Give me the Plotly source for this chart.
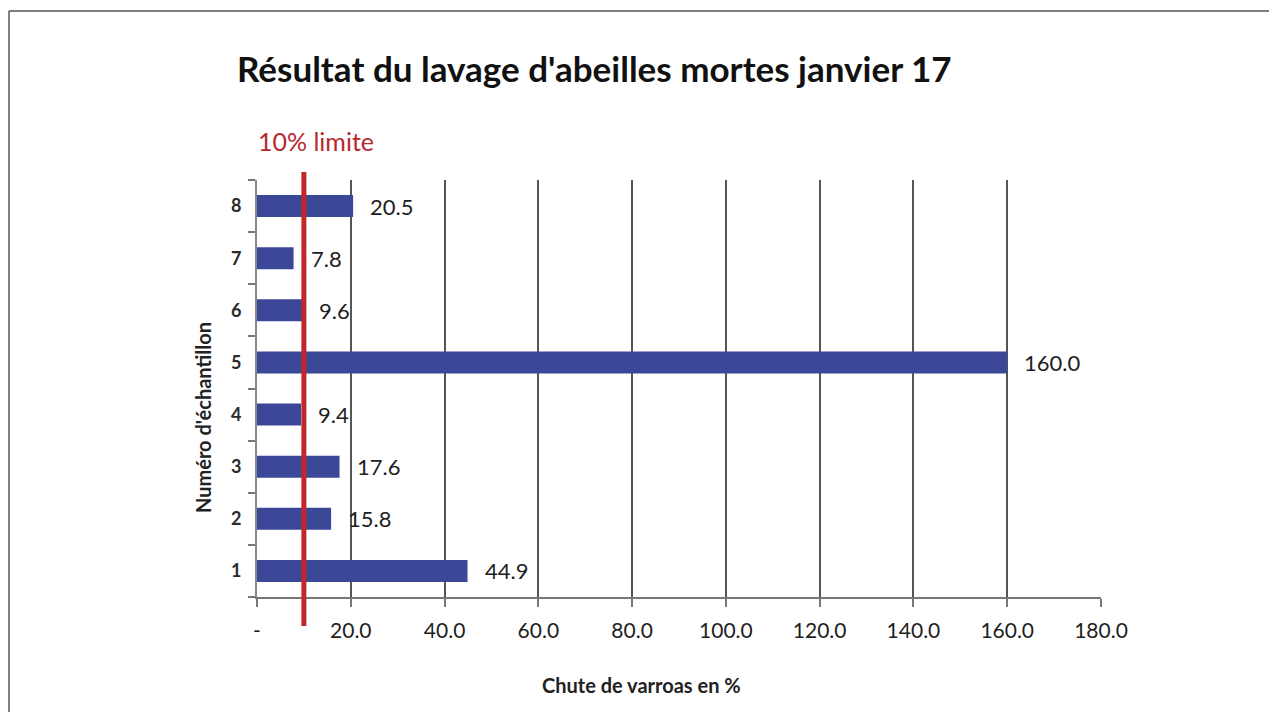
import plotly.graph_objects as go

# Data
samples = ["1", "2", "3", "4", "5", "6", "7", "8"]
values = [44.9, 15.8, 17.6, 9.4, 160.0, 9.6, 7.8, 20.5]
limit_value = 10
x_tickvals = [0, 20, 40, 60, 80, 100, 120, 140, 160, 180]
x_ticktext = ["-", "20.0", "40.0", "60.0", "80.0", "100.0", "120.0", "140.0", "160.0", "180.0"]

OFF = 8  # page body margin
W, H = 1277 - 2 * OFF, 720 - 2 * OFF
L, R, T, B = 257, 1101, 180, 597  # screen pixels
pw, ph = R - L, B - T

def px(x):
    return (x - L) / pw

def py(y):
    return (B - y) / ph

FONT = "Lato"
fig = go.Figure()
fig.add_trace(go.Bar(
    x=values, y=samples, orientation="h",
    marker=dict(color="#3B4797", line=dict(width=0)),
    width=0.42, hoverinfo="x+y",
))

annotations = []
for i, v in enumerate(values):
    annotations.append(dict(
        x=v, y=i, xref="x", yref="y", text=f"{v:.1f}", showarrow=False,
        xanchor="left", yanchor="middle", xshift=15,
        font=dict(family=FONT, size=22, color="#1e1e1e"),
    ))

annotations += [
    dict(x=px(235), y=py(68), xref="paper", yref="paper",
         text="<b>Résultat du lavage d'abeilles mortes janvier 17</b>",
         showarrow=False, xanchor="left", yanchor="middle",
         font=dict(family=FONT, size=35, color="#111111")),
    dict(x=limit_value, y=py(141), xref="x", yref="paper", text="10% limite",
         showarrow=False, xanchor="center", yanchor="middle", xshift=12,
         font=dict(family=FONT, size=25, color="#B8282E")),
    dict(x=px(641), y=py(685), xref="paper", yref="paper",
         text="<b>Chute de varroas en %</b>", showarrow=False,
         xanchor="center", yanchor="middle",
         font=dict(family=FONT, size=20, color="#222222")),
    dict(x=px(203), y=py(418), xref="paper", yref="paper",
         text="<b>Numéro d'échantillon</b>", showarrow=False, textangle=-90,
         xanchor="center", yanchor="middle",
         font=dict(family=FONT, size=20, color="#222222")),
]

shapes = [
    dict(type="line", xref="x", yref="paper", x0=limit_value, x1=limit_value,
         y0=py(626), y1=py(172), line=dict(color="#C0272D", width=5), layer="above"),
    # outer frame (top and left edges visible)
    dict(type="line", xref="paper", yref="paper", x0=px(9), x1=px(1300),
         y0=py(11), y1=py(11), line=dict(color="#555555", width=1.5), layer="below"),
    dict(type="line", xref="paper", yref="paper", x0=px(9), x1=px(9),
         y0=py(11), y1=py(740), line=dict(color="#555555", width=1.5), layer="below"),
]

fig.update_layout(
    width=W, height=H,
    margin=dict(l=L - OFF, r=W - (R - OFF), t=T - OFF, b=H - (B - OFF), pad=0),
    paper_bgcolor="white", plot_bgcolor="white",
    showlegend=False,
    annotations=annotations, shapes=shapes,
    xaxis=dict(
        range=[0, 180], tickvals=x_tickvals, ticktext=x_ticktext,
        showgrid=True, gridcolor="#555555", gridwidth=1.5,
        showline=True, linecolor="#777777", linewidth=2,
        ticks="outside", ticklen=8, tickcolor="#777777", tickwidth=1.5,
        tickfont=dict(family=FONT, size=21, color="#1e1e1e"),
        ticklabelstandoff=6,
        zeroline=False,
    ),
    yaxis=dict(
        type="category", categoryorder="array", categoryarray=samples,
        range=[-0.5, 7.5],
        showgrid=False, showline=True, linecolor="#888888", linewidth=2,
        ticks="outside", tickson="boundaries", ticklen=7, tickcolor="#777777",
        tickwidth=1.5,
        tickfont=dict(family=FONT, size=18, color="#2b2b2b", weight="bold"),
        ticklabelstandoff=10,
    ),
)

fig.write_html("out.html")
